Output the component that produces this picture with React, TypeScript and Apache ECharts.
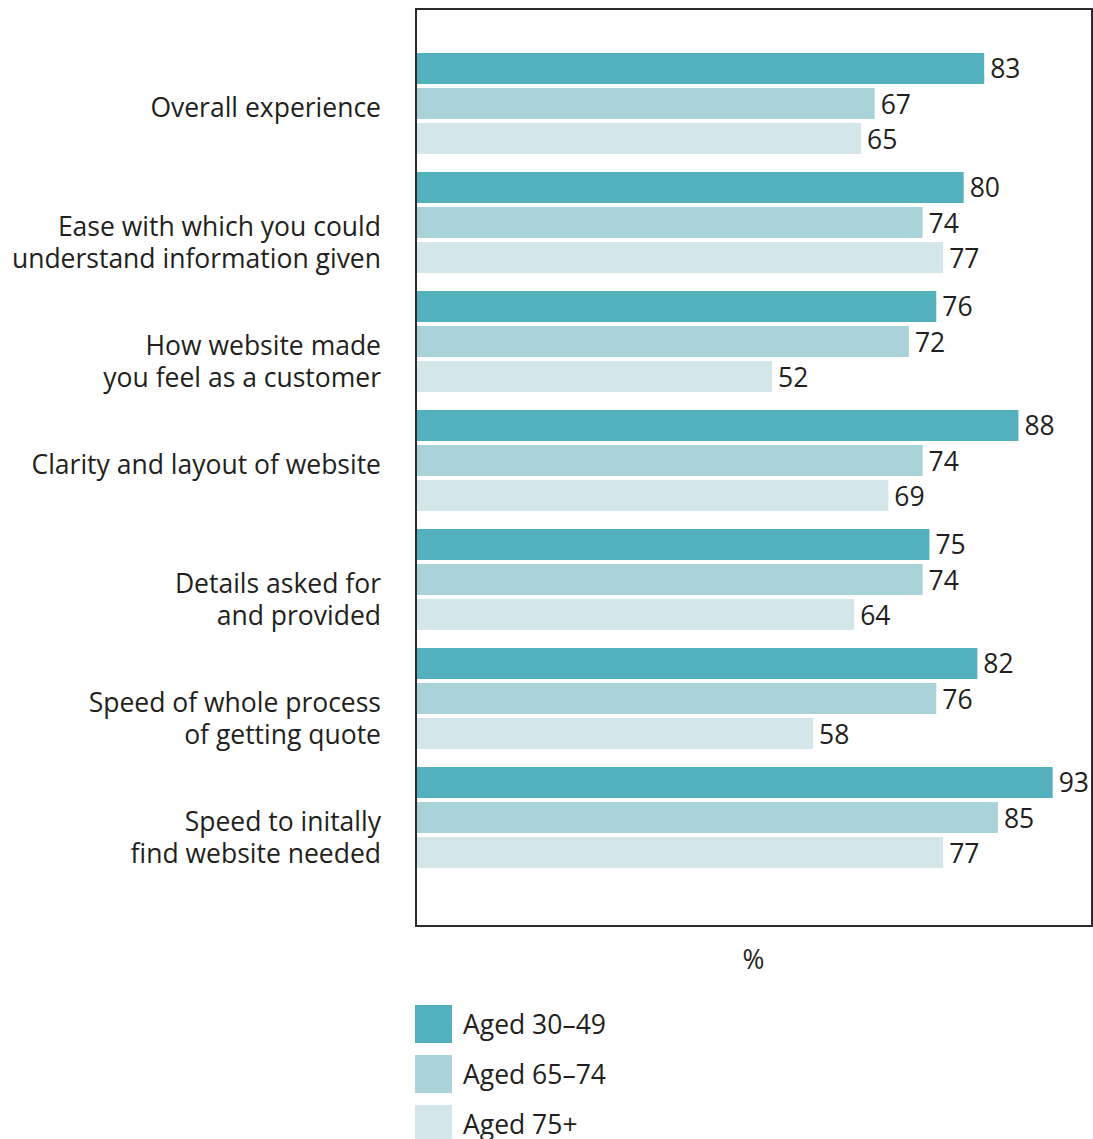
import React, { useEffect, useRef } from "react";
import * as echarts from "echarts";

const categories = [
  "Overall experience",
  "Ease with which you could\nunderstand information given",
  "How website made\nyou feel as a customer",
  "Clarity and layout of website",
  "Details asked for\nand provided",
  "Speed of whole process\nof getting quote",
  "Speed to initally\nfind website needed",
];
const seriesNames = ["Aged 30–49", "Aged 65–74", "Aged 75+"];
const aged3049 = [83, 80, 76, 88, 75, 82, 93];
const aged6574 = [67, 74, 72, 74, 74, 76, 85];
const aged75plus = [65, 77, 52, 69, 64, 58, 77];
const colors = ["#52b1bd", "#a9d3d9", "#d3e6ea"];

const FONT = "'Open Sans', 'Noto Sans', sans-serif";
const TEXT = "#231f20";
const FS = 26.5;

export default function App() {
  const ref = useRef<HTMLDivElement>(null);
  useEffect(() => {
    if (!ref.current) return;
    const chart = echarts.init(ref.current, undefined, { renderer: "svg" });
    const values = [aged3049, aged6574, aged75plus];
    chart.setOption({
      animation: false,
      textStyle: { fontFamily: FONT },
      grid: { left: 416, top: 44, width: 675, height: 833, containLabel: false },
      xAxis: {
        type: "value",
        min: 0,
        max: 98.6,
        axisLine: { show: false },
        axisTick: { show: false },
        axisLabel: { show: false },
        splitLine: { show: false },
        name: "%",
        nameLocation: "middle",
        nameGap: 68,
        nameTextStyle: { fontSize: FS, color: TEXT, fontFamily: FONT },
      },
      yAxis: {
        type: "category",
        inverse: true,
        data: categories,
        axisLine: { show: false },
        axisTick: { show: false },
        axisLabel: {
          margin: 35,
          fontSize: FS,
          lineHeight: 32,
          color: TEXT,
          fontFamily: FONT,
          align: "right",
          verticalAlign: "top",
          padding: [-13, 0, 0, 0],
        },
      },
      legend: {
        orient: "vertical",
        left: 415,
        top: 1005,
        height: 200,
        padding: 0,
        itemWidth: 37,
        itemHeight: 38,
        itemGap: 12,
        icon: "rect",
        data: seriesNames,
        textStyle: { fontSize: FS, lineHeight: 26, color: TEXT, fontFamily: FONT, padding: [0, 0, 0, 6] },
      },
      graphic: [
        {
          type: "rect",
          shape: { x: 416, y: 9, width: 676, height: 917 },
          style: { fill: "none", stroke: "#2b2b2b", lineWidth: 2 },
          z: 10,
        },
      ],
      series: seriesNames.map((name, i) => ({
        name,
        type: "bar",
        data: values[i],
        barWidth: 31,
        barGap: "13%",
        itemStyle: { color: colors[i] },
        label: {
          show: true,
          position: "right",
          distance: 6,
          fontSize: FS,
          color: TEXT,
          fontFamily: FONT,
        },
      })),
    });
    return () => chart.dispose();
  }, []);
  return <div ref={ref} style={{ width: 1093, height: 1139, position: "absolute", left: 0, top: 0 }} />;
}
